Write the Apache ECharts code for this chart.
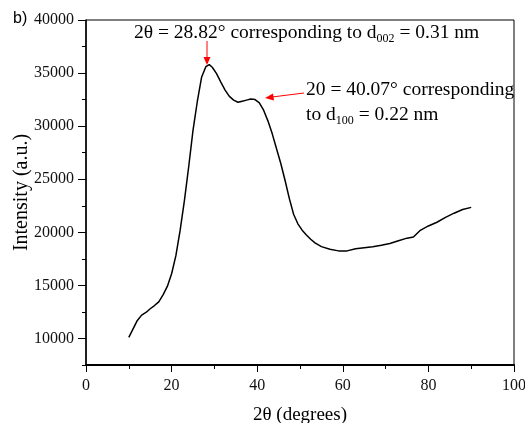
<!DOCTYPE html>
<html>
<head>
<meta charset="utf-8">
<script src="https://cdn.jsdelivr.net/npm/echarts@6/dist/echarts.min.js"></script>
<style>
  html, body { margin: 0; padding: 0; background: #fff; }
  #chart { width: 525px; height: 423px; }
</style>
</head>
<body>
<div id="chart"></div>
<script>
// XRD pattern
var twoTheta = [10, 11, 12, 13, 14, 15, 16, 17, 18, 19, 20, 21, 22, 23, 24, 25, 26, 27, 28, 28.8,
  29.5, 30.5, 31.5, 32.5, 33.5, 34.5, 35.5, 36.5, 37.5, 38.5, 39.5, 40.5, 41.5, 42.5, 43.5, 44.5,
  45.5, 46.5, 47.5, 48.5, 49.5, 50.5, 51.5, 52.5, 53.5, 55, 57, 59, 61, 63, 65, 67, 69, 71, 73,
  75, 76.5, 78, 80, 82, 84, 86, 88, 90];
var intensity = [10100, 10900, 11700, 12200, 12450, 12800, 13100, 13450, 14100, 14900, 16100, 17800,
  20200, 23000, 26200, 29600, 32300, 34600, 35600, 35800,
  35550, 34950, 34150, 33400, 32800, 32450, 32250, 32350, 32450, 32550, 32500, 32200, 31500, 30500,
  29300, 27900, 26500, 24900, 23200, 21700, 20800, 20200, 19750, 19350, 19000, 18650, 18400, 18250,
  18250, 18450, 18550, 18650, 18780, 18950, 19200, 19450, 19550, 20150, 20600, 20950, 21400, 21800,
  22150, 22350];
var xMajor = [0, 20, 40, 60, 80, 100];
var yMajor = [10000, 15000, 20000, 25000, 30000, 35000, 40000];

var serif = '"Liberation Serif", "Times New Roman", serif';

var points = twoTheta.map(function (x, i) { return [x, intensity[i]]; });

var myChart = echarts.init(document.getElementById('chart'));
myChart.setOption({
  animation: false,
  textStyle: { fontFamily: serif },
  grid: {
    left: 86, right: 11, top: 20, bottom: 58,
    outerBoundsMode: 'none',
    show: true, borderColor: '#000', borderWidth: 1
  },
  xAxis: [
    {
      type: 'value', min: 0, max: 100, interval: 10,
      name: '2θ (degrees)', nameLocation: 'middle', nameGap: 41,
      nameTextStyle: { fontSize: 19, color: '#000', fontFamily: serif },
      axisLine: { lineStyle: { color: '#000', width: 2 } },
      axisTick: { length: 4, lineStyle: { color: '#000' } },
      axisLabel: {
        fontSize: 16, color: '#111', margin: 13, fontFamily: serif,
        formatter: function (v) { return v % 20 === 0 ? String(v) : ''; }
      },
      splitLine: { show: false }
    },
    {
      type: 'value', min: 0, max: 100, position: 'bottom',
      axisLine: { show: false },
      axisTick: { customValues: xMajor, length: 7, lineStyle: { color: '#000' } },
      axisLabel: { show: false },
      splitLine: { show: false }
    }
  ],
  yAxis: [
    {
      type: 'value', min: 7500, max: 40000, interval: 2500,
      name: 'Intensity (a.u.)', nameLocation: 'middle', nameGap: 54,
      nameMoveOverlap: false,
      nameTextStyle: { fontSize: 20, color: '#000', fontFamily: serif },
      axisLine: { show: true, lineStyle: { color: '#000', width: 1.5 } },
      axisTick: { show: true, length: 4, lineStyle: { color: '#000' } },
      axisLabel: {
        fontSize: 16, color: '#111', margin: 12, fontFamily: serif,
        formatter: function (v) { return v % 5000 === 0 ? String(v) : ''; }
      },
      splitLine: { show: false }
    },
    {
      type: 'value', min: 7500, max: 40000, position: 'left',
      axisLine: { show: false },
      axisTick: { show: true, customValues: yMajor, length: 8, lineStyle: { color: '#000' } },
      axisLabel: { show: false },
      splitLine: { show: false }
    }
  ],
  series: [{
    type: 'line',
    data: points,
    xAxisIndex: 0,
    yAxisIndex: 0,
    showSymbol: false,
    lineStyle: { color: '#000', width: 1.5 }
  }],
  graphic: [
    {
      type: 'text', left: 13, top: 11,
      style: { text: 'b)', font: '16px "Liberation Sans", Arial, sans-serif', fill: '#000' }
    },
    {
      type: 'text', x: 134, y: 33,
      style: {
        text: '{n|2θ = 28.82° corresponding to d}{s|002}{n| = 0.31 nm}',
        verticalAlign: 'middle',
        rich: {
          n: { fontFamily: serif, fontSize: 19.5, fill: '#000' },
          s: { fontFamily: serif, fontSize: 12, fill: '#000', padding: [11, 0, 0, 0] }
        }
      }
    },
    {
      type: 'text', x: 306, y: 90,
      style: {
        text: '20 = 40.07° corresponding',
        verticalAlign: 'middle',
        font: '19.5px ' + serif, fill: '#000'
      }
    },
    {
      type: 'text', x: 306, y: 115,
      style: {
        text: '{n|to d}{s|100}{n| = 0.22 nm}',
        verticalAlign: 'middle',
        rich: {
          n: { fontFamily: serif, fontSize: 19.5, fill: '#000' },
          s: { fontFamily: serif, fontSize: 12, fill: '#000', padding: [11, 0, 0, 0] }
        }
      }
    },
    // arrows
    {
      type: 'line', shape: { x1: 207, y1: 41, x2: 207, y2: 58 },
      style: { stroke: '#ff0000', lineWidth: 1 }
    },
    {
      type: 'polygon', shape: { points: [[203.5, 57], [210.5, 57], [207, 65]] },
      style: { fill: '#ff0000' }
    },
    {
      type: 'line', shape: { x1: 304, y1: 93, x2: 272, y2: 97 },
      style: { stroke: '#ff0000', lineWidth: 1 }
    },
    {
      type: 'polygon', shape: { points: [[273, 93.5], [274, 100.5], [265, 98]] },
      style: { fill: '#ff0000' }
    }
  ]
});
</script>
</body>
</html>
